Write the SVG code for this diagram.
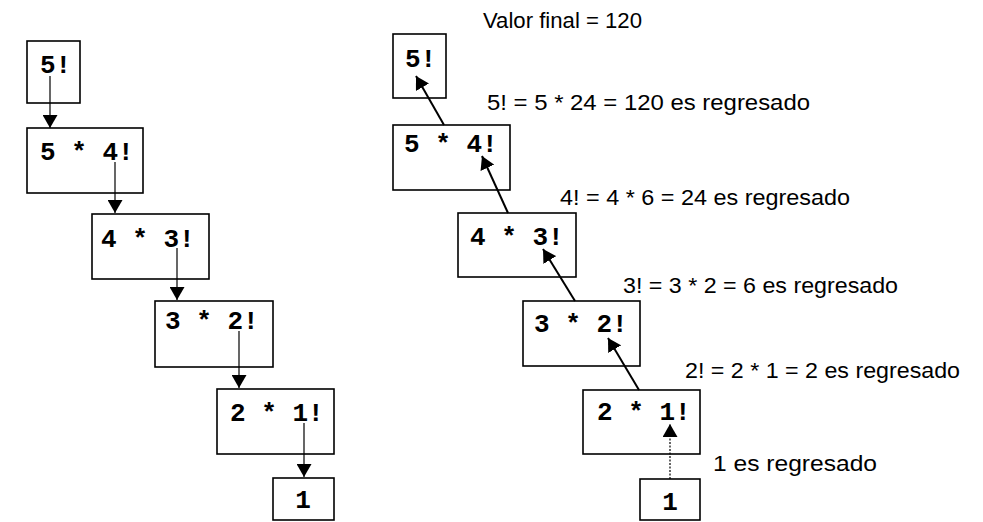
<svg xmlns="http://www.w3.org/2000/svg" width="983" height="522" viewBox="0 0 983 522">
  <defs>
    <marker id="head" markerUnits="userSpaceOnUse" markerWidth="15" markerHeight="15" refX="13" refY="7.5" orient="auto">
      <path d="M0,0 L13,7.5 L0,15 z" fill="#000"/>
    </marker>
    <style>
      .box { fill: #fff; stroke: #000; stroke-width: 1.6; }
      .code { font-family: "Liberation Mono", "Courier New", monospace; font-weight: bold; font-size: 26px; fill: #000; }
      .note { font-family: "Liberation Sans", Arial, sans-serif; font-size: 22px; fill: #000; }
      .down { stroke: #000; stroke-width: 1.2; fill: none; marker-end: url(#head); }
      .up { stroke: #000; stroke-width: 2; fill: none; marker-end: url(#head); }
      .dotted { stroke: #000; stroke-width: 1.2; stroke-dasharray: 2 1.5; fill: none; marker-end: url(#head); }
    </style>
  </defs>

  <rect width="983" height="522" fill="#fff"/>

  <!-- Calls going down -->
  <g id="call-5">
    <rect class="box" x="27" y="41" width="53" height="62"/>
    <text class="code" x="40" y="73">5!</text>
  </g>
  <g id="call-4">
    <rect class="box" x="27" y="128" width="116" height="65"/>
    <text class="code" x="40" y="160">5 * 4!</text>
  </g>
  <g id="call-3">
    <rect class="box" x="92" y="214" width="117" height="65"/>
    <text class="code" x="101" y="247">4 * 3!</text>
  </g>
  <g id="call-2">
    <rect class="box" x="155" y="301" width="118" height="66"/>
    <text class="code" x="165" y="329">3 * 2!</text>
  </g>
  <g id="call-1">
    <rect class="box" x="217" y="389" width="117" height="65"/>
    <text class="code" x="230" y="421">2 * 1!</text>
  </g>
  <g id="call-base">
    <rect class="box" x="273" y="478" width="61" height="42"/>
    <text class="code" x="303" y="508" text-anchor="middle">1</text>
  </g>

  <!-- Values returning up -->
  <g id="ret-5">
    <rect class="box" x="393" y="34" width="53" height="64"/>
    <text class="code" x="405" y="67">5!</text>
  </g>
  <g id="ret-4">
    <rect class="box" x="393" y="125" width="117" height="65"/>
    <text class="code" x="404" y="152">5 * 4!</text>
  </g>
  <g id="ret-3">
    <rect class="box" x="458" y="213" width="118" height="64"/>
    <text class="code" x="470" y="245">4 * 3!</text>
  </g>
  <g id="ret-2">
    <rect class="box" x="523" y="301" width="117" height="65"/>
    <text class="code" x="534" y="332">3 * 2!</text>
  </g>
  <g id="ret-1">
    <rect class="box" x="583" y="390" width="117" height="64"/>
    <text class="code" x="597" y="420">2 * 1!</text>
  </g>
  <g id="ret-base">
    <rect class="box" x="640" y="479" width="60" height="41"/>
    <text class="code" x="670" y="510" text-anchor="middle">1</text>
  </g>

  <!-- Labels -->
  <g id="labels">
    <text class="note" x="483" y="28" textLength="159" lengthAdjust="spacingAndGlyphs">Valor final = 120</text>
    <text class="note" x="487" y="110" textLength="323" lengthAdjust="spacingAndGlyphs">5! = 5 * 24 = 120 es regresado</text>
    <text class="note" x="560" y="205" textLength="290" lengthAdjust="spacingAndGlyphs">4! = 4 * 6 = 24 es regresado</text>
    <text class="note" x="623" y="293" textLength="275" lengthAdjust="spacingAndGlyphs">3! = 3 * 2 = 6 es regresado</text>
    <text class="note" x="685" y="378" textLength="275" lengthAdjust="spacingAndGlyphs">2! = 2 * 1 = 2 es regresado</text>
    <text class="note" x="713" y="471" textLength="164" lengthAdjust="spacingAndGlyphs">1 es regresado</text>
  </g>

  <!-- Connectors -->
  <g id="connectors">
    <line class="down" x1="50" y1="76" x2="50" y2="128"/>
    <line class="down" x1="115" y1="162" x2="115" y2="213"/>
    <line class="down" x1="177" y1="248" x2="177" y2="300"/>
    <line class="down" x1="239" y1="331" x2="239" y2="388"/>
    <line class="down" x1="304" y1="423" x2="304" y2="477"/>

    <line class="up" x1="444" y1="125" x2="416" y2="76"/>
    <line class="up" x1="508" y1="213" x2="482" y2="156"/>
    <line class="up" x1="575" y1="301" x2="543" y2="249"/>
    <line class="up" x1="639" y1="390" x2="608" y2="338"/>
    <line class="dotted" x1="670" y1="479" x2="670" y2="424"/>
  </g>
</svg>
